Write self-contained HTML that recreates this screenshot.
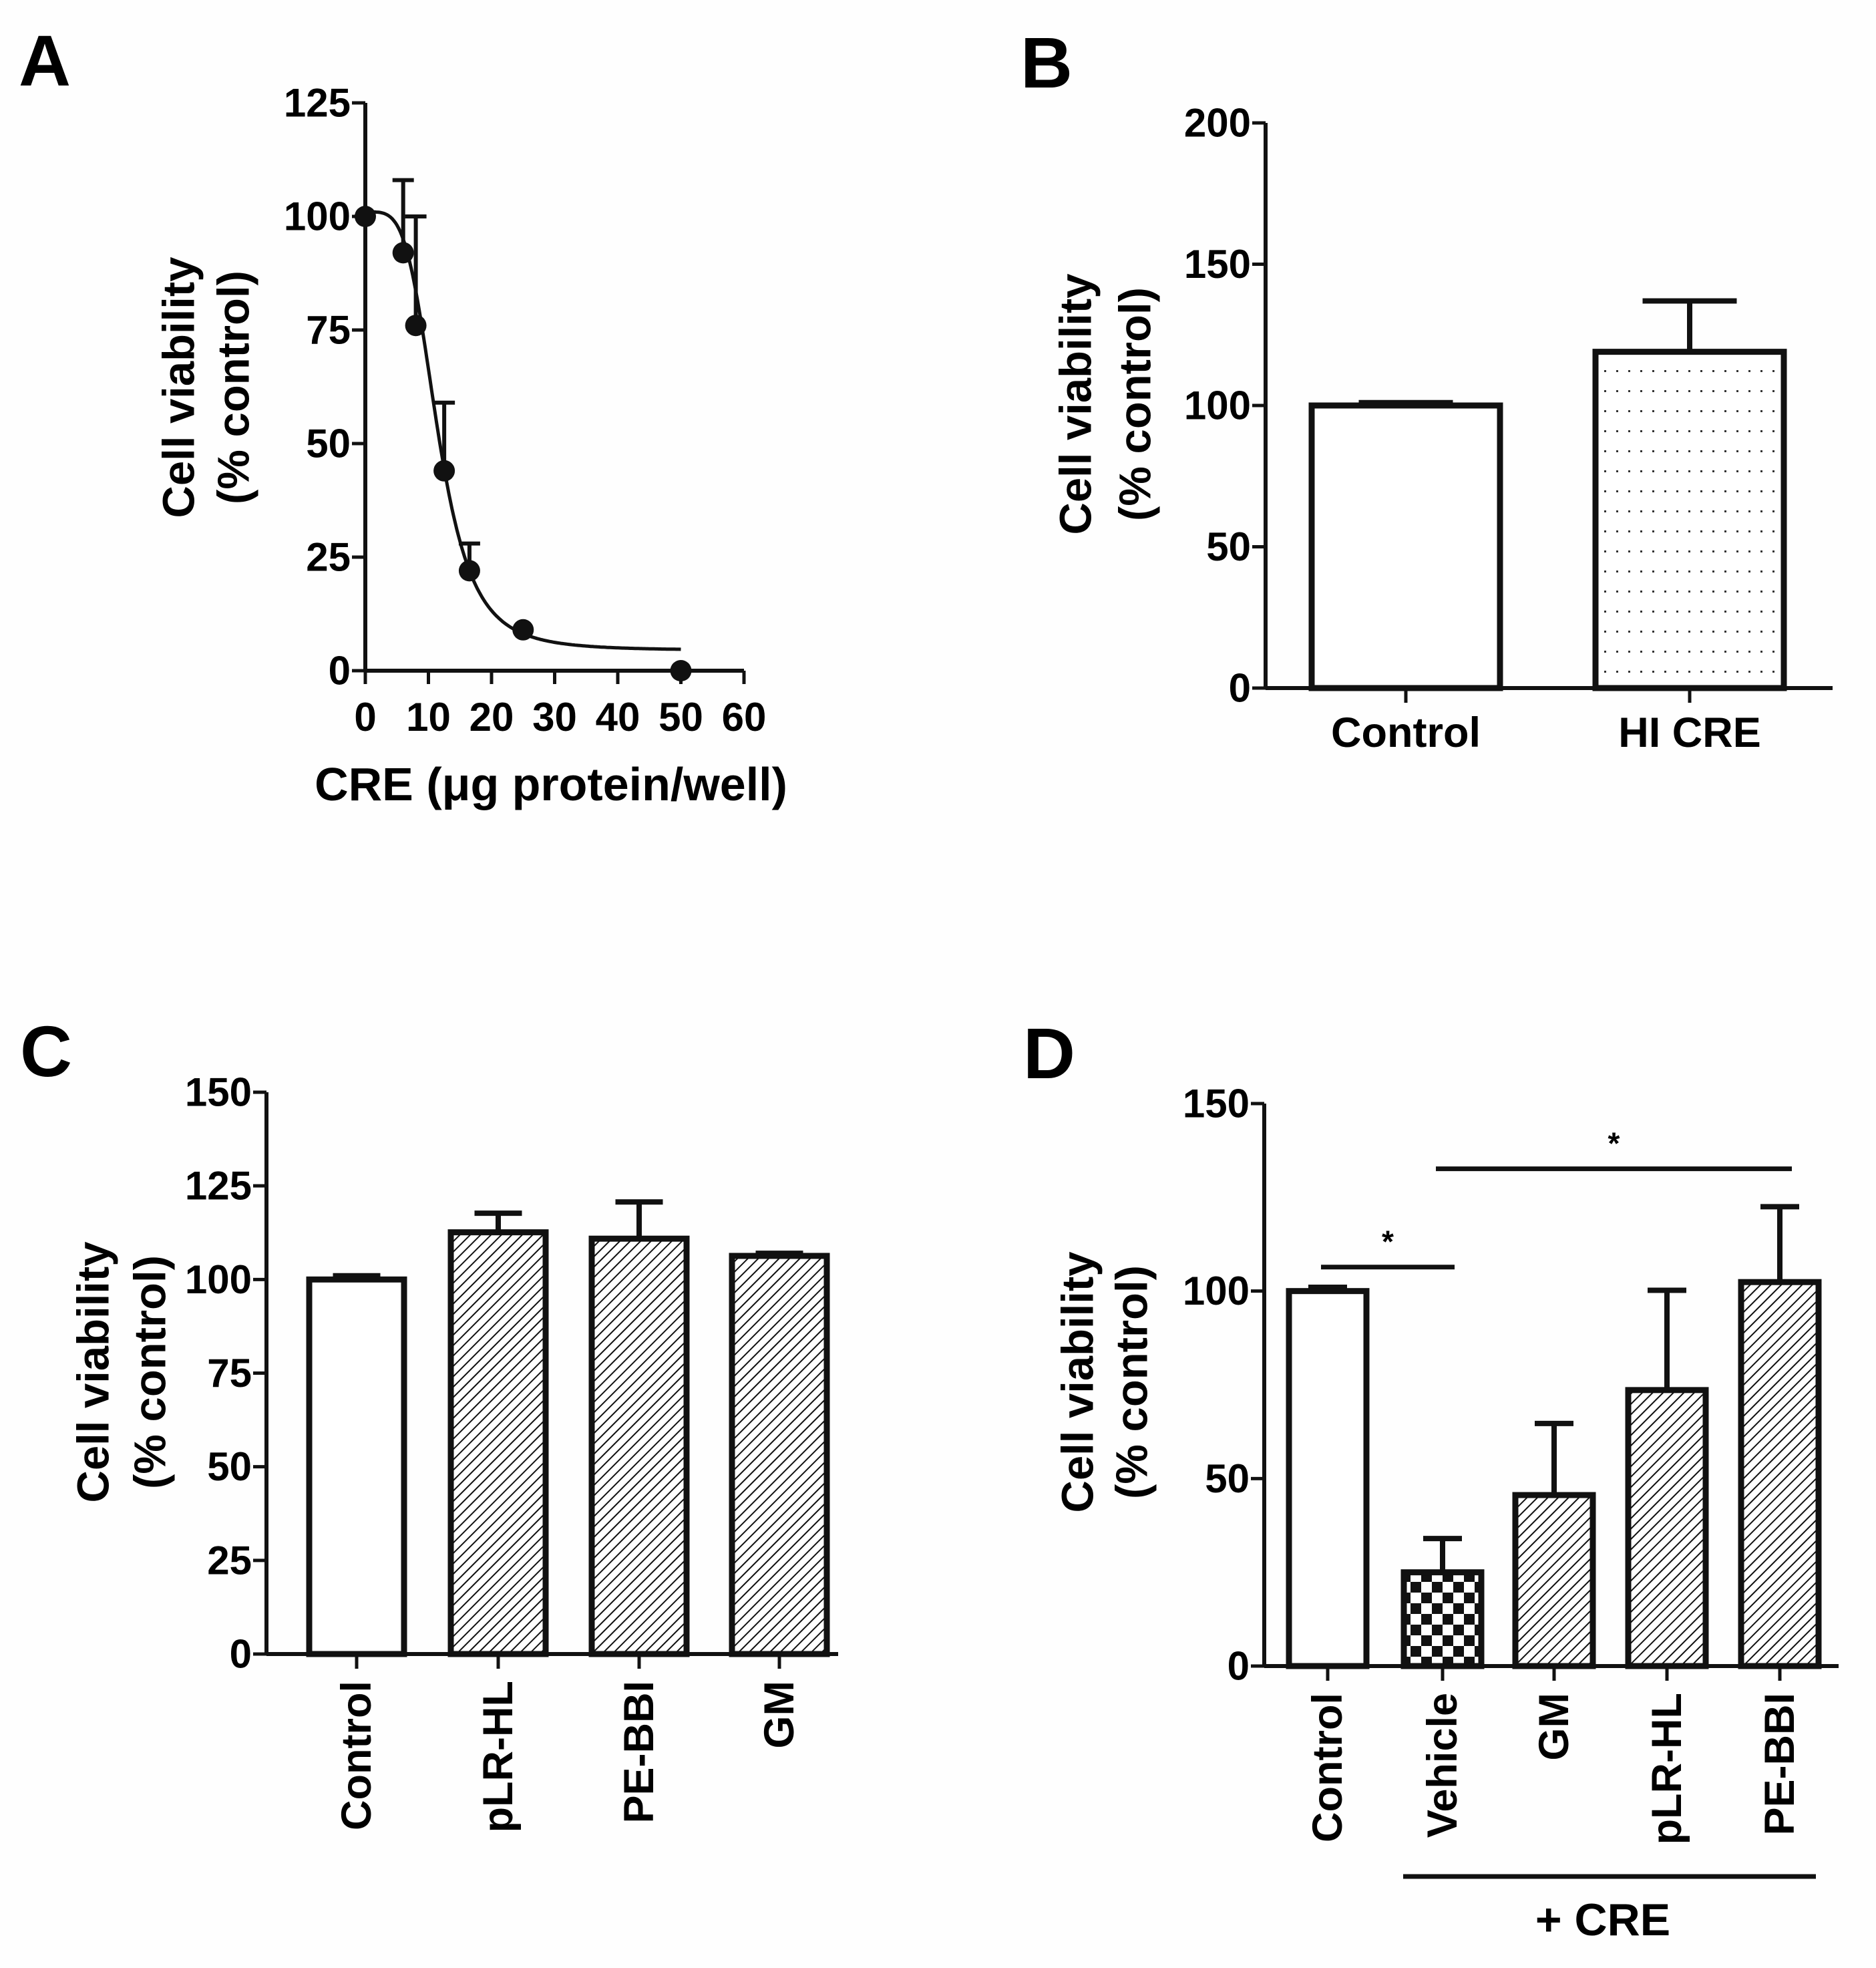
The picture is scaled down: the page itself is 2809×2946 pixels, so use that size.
<!DOCTYPE html>
<html><head><meta charset="utf-8"><style>
html,body{margin:0;padding:0;background:#fefefe;}
svg{display:block;font-family:"Liberation Sans",Arial,sans-serif;font-weight:bold;}
</style></head><body>
<svg id="fig" xmlns="http://www.w3.org/2000/svg" width="2809" height="2946" viewBox="0 0 2809 2946">
<defs>
<pattern id="hatch" patternUnits="userSpaceOnUse" width="11" height="11" patternTransform="rotate(45)">
<rect width="11" height="11" fill="#fff"/><line x1="0" y1="0" x2="0" y2="11" stroke="#111" stroke-width="4"/></pattern>
<pattern id="checker" patternUnits="userSpaceOnUse" width="32" height="32">
<rect width="32" height="32" fill="#fff"/><rect width="16" height="16" fill="#111"/><rect x="16" y="16" width="16" height="16" fill="#111"/></pattern>
<pattern id="dots" patternUnits="userSpaceOnUse" width="18" height="30">
<rect width="18" height="30" fill="#fff"/><rect x="8" y="14" width="3" height="3" fill="#333"/></pattern>
</defs>
<g id="root"></g>
</svg>
<script>
// Panel A data
const aDose = [0, 6, 8, 12.5, 16.5, 25, 50];
const aViab = [100, 92, 76, 44, 22, 9, 0];
const aErrUp = [0, 108, 100, 59, 28, 0, 0];
const aFit = [4.5, 101, 11.5, 4.17]; // bottom, top, IC50, hill
const aYTicks = [0, 25, 50, 75, 100, 125];
const aXTicks = [0, 10, 20, 30, 40, 50, 60];
// Panel B data
const bCats = ["Control", "HI CRE"];
const bVals = [100, 119];
const bErr = [101, 137];
const bYTicks = [0, 50, 100, 150, 200];
// Panel C data
const cCats = ["Control", "pLR-HL", "PE-BBI", "GM"];
const cVals = [100, 112.6, 110.9, 106.3];
const cErr = [101, 117.7, 120.7, 107];
const cYTicks = [0, 25, 50, 75, 100, 125, 150];
// Panel D data
const dCats = ["Control", "Vehicle", "GM", "pLR-HL", "PE-BBI"];
const dVals = [100, 25, 45.6, 73.6, 102.4];
const dErr = [101, 34, 64.7, 100.2, 122.5];
const dYTicks = [0, 50, 100, 150];
const dSig = [[0, 1, 106.4], [1, 4, 132.6]];

const NS = "http://www.w3.org/2000/svg";
const root = document.getElementById("root");
function mk(tag, attrs, parent, text) {
  const e = document.createElementNS(NS, tag);
  for (const k in attrs) e.setAttribute(k, attrs[k]);
  if (text !== undefined) e.textContent = text;
  (parent || root).appendChild(e);
  return e;
}
function panelLabel(t, x, y) {
  const e = mk("text", {x: x, y: y, "font-size": 108}, root, t);
  
  
}
function yTitle(cx1, cx2, cy, fs) {
  const g = mk("g", {});
  
  
  mk("text", {x: cx1, y: cy, "font-size": fs, "text-anchor": "middle", transform: `rotate(-90 ${cx1} ${cy})`, "dominant-baseline": "central"}, g, "Cell viability");
  mk("text", {x: cx2, y: cy, "font-size": fs, "text-anchor": "middle", transform: `rotate(-90 ${cx2} ${cy})`, "dominant-baseline": "central"}, g, "(% control)");
}
function yAxis(ax, ticks, ys, x0, x1, fs) {
  const g = mk("g", {});
  
  
  mk("line", {x1: ax, y1: ys(ticks[ticks.length-1]), x2: ax, y2: ys(0), stroke: "#111", "stroke-width": 6}, g);
  ticks.forEach(t => {
    const y = ys(t);
    mk("line", {x1: ax-20, y1: y, x2: ax, y2: y, stroke: "#111", "stroke-width": 5}, g);
    const tx = mk("text", {x: ax-22, y: y, "font-size": fs, "text-anchor": "end", "dominant-baseline": "central"}, g, String(t));
    
    
  });
  mk("line", {x1: ax, y1: ys(0), x2: x1, y2: ys(0), stroke: "#111", "stroke-width": 6}, g);
}

// ---------- Panel A ----------
panelLabel("A", 28, 128);
(function(){
  const ax = 547, y0 = 1004, y125 = 154, xR = 1114;
  const ys = v => y0 - (v/125)*(y0-y125);
  const xs = v => ax + (v/60)*(xR-ax);
  yAxis(ax, aYTicks, ys, ax, xR, 60);
  aXTicks.forEach(t => {
    const x = xs(t);
    mk("line", {x1: x, y1: y0, x2: x, y2: y0+20, stroke: "#111", "stroke-width": 5});
    const tx = mk("text", {x: x, y: 1094, "font-size": 60, "text-anchor": "middle"}, root, String(t));
    
    
  });
  const xt = mk("text", {x: 825, y: 1198, "font-size": 70, "text-anchor": "middle"}, root, "CRE (\u03bcg protein/well)");
  
  
  yTitle(268, 350, 580, 67);
  let d = "";
  for (let i = 0; i <= 200; i++) {
    const x = 50*i/200;
    const y = aFit[0] + (aFit[1]-aFit[0])/(1+Math.pow(x/aFit[2], aFit[3]));
    d += (i ? "L" : "M") + xs(x).toFixed(1) + "," + ys(y).toFixed(1);
  }
  const c = mk("path", {d: d, fill: "none", stroke: "#111", "stroke-width": 5});
  
  
  aDose.forEach((x, i) => {
    if (aErrUp[i] > aViab[i]) {
      const eb = mk("path", {d: `M${xs(x)},${ys(aViab[i])}V${ys(aErrUp[i])}M${xs(x)-16},${ys(aErrUp[i])}H${xs(x)+16}`, stroke: "#111", "stroke-width": 6, fill: "none"});
      
      
    }
    const p = mk("circle", {cx: xs(x), cy: ys(aViab[i]), r: 16, fill: "#111"});
    
    
  });
})();

// ---------- Bar panel helper ----------
function barPanel(o) {
  const ys = v => o.y0 - (v/o.max)*(o.y0-o.yTop);
  yAxis(o.ax, o.ticks, ys, o.ax, o.xR, o.fs);
  o.cats.forEach((c, i) => {
    const cx = o.cx[i], hw = o.bw/2;
    const eb = mk("path", {d: `M${cx},${ys(o.vals[i])}V${ys(o.err[i])}M${cx-hw*0.5},${ys(o.err[i])}H${cx+hw*0.5}`, stroke: "#111", "stroke-width": 8, fill: "none"});
    
    
    const r = mk("rect", {x: cx-hw, y: ys(o.vals[i]), width: o.bw, height: ys(0)-ys(o.vals[i]), fill: o.fills[i], stroke: "#111", "stroke-width": 9});
    
    
    mk("line", {x1: cx, y1: o.y0, x2: cx, y2: o.y0+22, stroke: "#111", "stroke-width": 5});
    let t;
    if (o.rot) {
      const ty = o.y0 + 40;
      t = mk("text", {x: cx, y: ty, "font-size": o.lfs, "text-anchor": "end", "dominant-baseline": "central", transform: `rotate(-90 ${cx} ${ty})`}, root, c);
    } else {
      t = mk("text", {x: cx, y: o.labY, "font-size": o.lfs, "text-anchor": "middle"}, root, c);
    }
    
    
  });
  return ys;
}

// ---------- Panel B ----------
panelLabel("B", 1528, 131);
barPanel({ax: 1895, y0: 1030, yTop: 184, max: 200, xR: 2744, ticks: bYTicks, fs: 60,
  cats: bCats, vals: bVals, err: bErr, cx: [2105, 2530], bw: 282, fills: ["#fff", "url(#dots)"], lfs: 63, rot: false, labY: 1118});
yTitle(1611, 1700, 605, 67);

// ---------- Panel C ----------
panelLabel("C", 30, 1611);
barPanel({ax: 399, y0: 2476, yTop: 1635, max: 150, xR: 1255, ticks: cYTicks, fs: 60,
  cats: cCats, vals: cVals, err: cErr, cx: [534, 746, 957, 1167], bw: 142, fills: ["#fff", "url(#hatch)", "url(#hatch)", "url(#hatch)"], lfs: 63, rot: true});
yTitle(140, 225, 2054, 67);

// ---------- Panel D ----------
panelLabel("D", 1532, 1614);
(function(){
  const cx = [1988, 2160, 2327, 2496, 2665];
  const ys = barPanel({ax: 1893, y0: 2494, yTop: 1652, max: 150, xR: 2753, ticks: dYTicks, fs: 60,
    cats: dCats, vals: dVals, err: dErr, cx: cx, bw: 116, fills: ["#fff", "url(#checker)", "url(#hatch)", "url(#hatch)", "url(#hatch)"], lfs: 63, rot: true});
  yTitle(1614, 1695, 2069, 67);
  dSig.forEach(s => {
    const x1 = cx[s[0]] - 10, x2 = cx[s[1]] + 18, y = ys(s[2]);
    const l = mk("line", {x1: x1, y1: y, x2: x2, y2: y, stroke: "#111", "stroke-width": 7});
    
    
    const st = mk("text", {x: (x1+x2)/2, y: y - 22, "font-size": 46, "text-anchor": "middle"}, root, "*");
    
    
  });
  const g = mk("line", {x1: 2101, y1: 2809, x2: 2719, y2: 2809, stroke: "#111", "stroke-width": 7});
  
  
  const t = mk("text", {x: 2400, y: 2897, "font-size": 68, "text-anchor": "middle"}, root, "+ CRE");
  
  
})();
</script>
</body></html>
